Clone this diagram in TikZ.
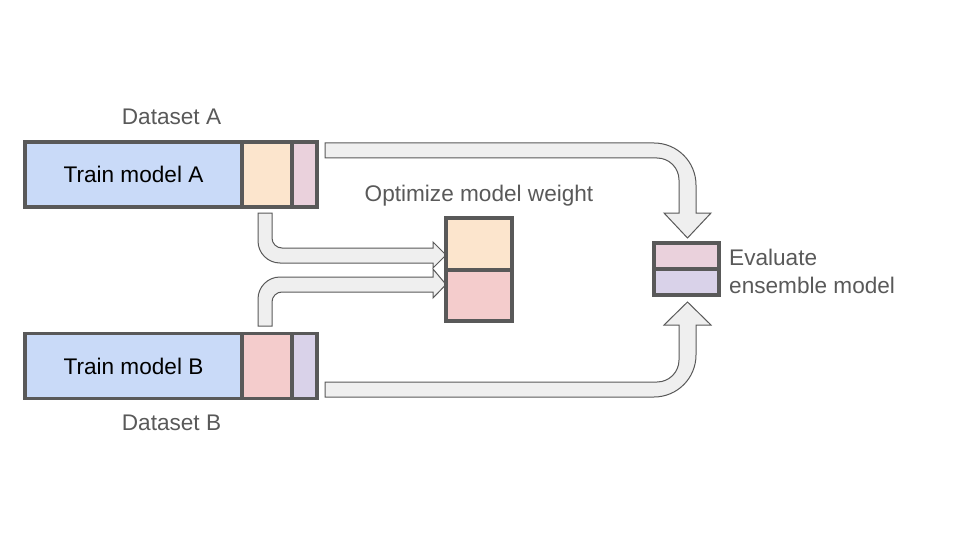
\documentclass[tikz,border=0pt]{standalone}
\usepackage{fontspec}
\setmainfont{Liberation Sans}
\definecolor{boxline}{HTML}{595959}
\definecolor{labelgray}{HTML}{595959}
\definecolor{trainblue}{HTML}{C9DAF8}
\definecolor{valorange}{HTML}{FCE5CD}
\definecolor{tstpink}{HTML}{EAD1DC}
\definecolor{wred}{HTML}{F4CCCC}
\definecolor{tstlav}{HTML}{D9D2E9}
\definecolor{arrowfill}{HTML}{EFEFEF}
\begin{document}
\begin{tikzpicture}[x=1pt, y=-1pt,
seg/.style={draw=boxline, line width=3.5pt, inner sep=0pt, outer sep=0pt, minimum height=65pt,
            font=\fontsize{22.6}{28}\selectfont},
lbl/.style={text=labelgray, font=\fontsize{22.6}{28}\selectfont, anchor=base},
fat/.style={fill=arrowfill, draw=boxline, line width=1pt}]
\useasboundingbox (0,0) rectangle (960,540);
% block arrows
\draw[fat] (325,143) [rounded corners=42pt] -- (696,143) [sharp corners] -- (696,213)
  -- (711,213) -- (687.5,238) -- (664,213) -- (679,213) [rounded corners=22pt]
  -- (679,158) [sharp corners] -- (325,158) -- cycle;
\draw[fat] (325,397) [rounded corners=42pt] -- (696,397) [sharp corners] -- (696,325)
  -- (711,325) -- (687.5,302) -- (664,325) -- (679,325) [rounded corners=22pt]
  -- (679,382) [sharp corners] -- (325,382) -- cycle;
\draw[fat] (258,213) [rounded corners=22pt] -- (258,263) [sharp corners] -- (433,263)
  -- (433,268) -- (446,255) -- (433,242) -- (433,248) [rounded corners=10pt]
  -- (272,248) [sharp corners] -- (272,213) -- cycle;
\draw[fat] (258,326) [rounded corners=22pt] -- (258,277) [sharp corners] -- (433,277)
  -- (433,269) -- (446,284.5) -- (433,298) -- (433,292) [rounded corners=10pt]
  -- (272,292) [sharp corners] -- (272,326) -- cycle;
%
\node[seg, fill=trainblue, minimum width=217pt] (trainA) at (133.5,174.5) {Train model A};
\node[seg, fill=valorange, minimum width=50pt, anchor=west] (valA) at (trainA.east) {};
\node[seg, fill=tstpink, minimum width=25pt, anchor=west] (tstA) at (valA.east) {};
\node[seg, fill=trainblue, minimum width=217pt] (trainB) at (133.5,366) {Train model B};
\node[seg, fill=wred, minimum width=50pt, anchor=west] (valB) at (trainB.east) {};
\node[seg, fill=tstlav, minimum width=25pt, anchor=west] (tstB) at (valB.east) {};
%
\node[seg, fill=valorange, minimum width=66pt, minimum height=52pt] (wA) at (479,244) {};
\node[seg, fill=wred, minimum width=66pt, minimum height=51pt, anchor=north] (wB) at (wA.south) {};
\node[seg, fill=tstpink, minimum width=65pt, minimum height=26pt] (evA) at (686.5,256) {};
\node[seg, fill=tstlav, minimum width=65pt, minimum height=26pt, anchor=north] (evB) at (evA.south) {};
%
\node[lbl] (dsA) at (171.5,125) {Dataset A};
\node[lbl] (dsB) at (171.5,430) {Dataset B};
\node[lbl] (opt) at (479,201) {Optimize model weight};
\node[lbl, anchor=base west, align=left, inner sep=0pt] (eval) at (729,293) {Evaluate\\ensemble model};
\end{tikzpicture}
\end{document}
